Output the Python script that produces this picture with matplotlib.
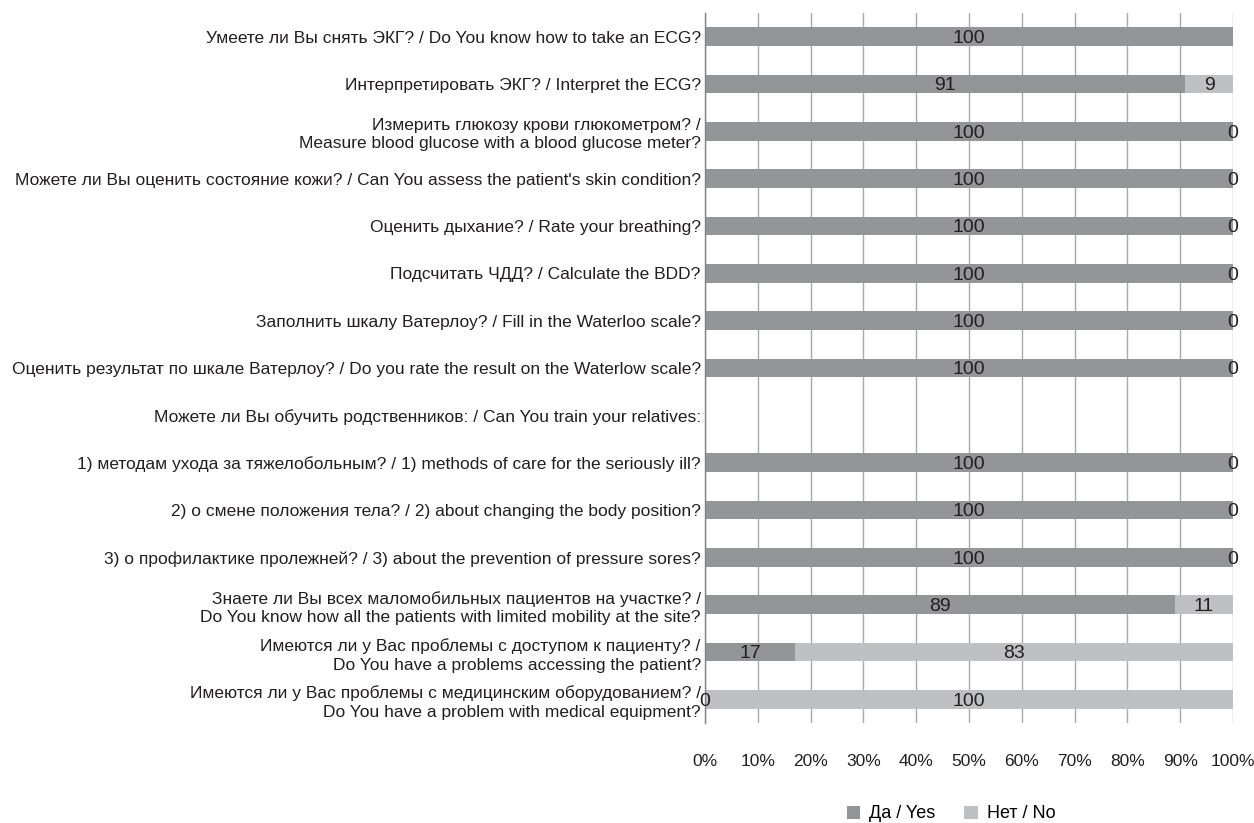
import matplotlib
matplotlib.use("Agg")
import matplotlib.pyplot as plt
import numpy as np

plt.rcParams['font.family'] = ['Liberation Sans', 'DejaVu Sans']

questions = [
    "Умеете ли Вы снять ЭКГ? / Do You know how to take an ECG?",
    "Интерпретировать ЭКГ? / Interpret the ECG?",
    "Измерить глюкозу крови глюкометром? /\nMeasure blood glucose with a blood glucose meter?",
    "Можете ли Вы оценить состояние кожи? / Can You assess the patient's skin condition?",
    "Оценить дыхание? / Rate your breathing?",
    "Подсчитать ЧДД? / Calculate the BDD?",
    "Заполнить шкалу Ватерлоу? / Fill in the Waterloo scale?",
    "Оценить результат по шкале Ватерлоу? / Do you rate the result on the Waterlow scale?",
    "Можете ли Вы обучить родственников: / Can You train your relatives:",
    "1) методам ухода за тяжелобольным? / 1) methods of care for the seriously ill?",
    "2) о смене положения тела? / 2) about changing the body position?",
    "3) о профилактике пролежней? / 3) about the prevention of pressure sores?",
    "Знаете ли Вы всех маломобильных пациентов на участке? /\nDo You know how all the patients with limited mobility at the site?",
    "Имеются ли у Вас проблемы с доступом к пациенту? /\nDo You have a problems accessing the patient?",
    "Имеются ли у Вас проблемы с медицинским оборудованием? /\nDo You have a problem with medical equipment?",
]
yes_pct = [100, 91, 100, 100, 100, 100, 100, 100, None, 100, 100, 100, 89, 17, 0]
no_pct = [None, 9, 0, 0, 0, 0, 0, 0, None, 0, 0, 0, 11, 83, 100]
ticks = [0, 10, 20, 30, 40, 50, 60, 70, 80, 90, 100]

dark = "#939598"
light = "#bfc0c2"
txt = "#231f20"

fig = plt.figure(figsize=(12.54, 8.23), dpi=100)
ax = fig.add_axes([705 / 1254, 1 - 723 / 823, 528 / 1254, 710 / 823])

y = np.arange(len(questions))
yes = np.array([np.nan if v is None else v for v in yes_pct], dtype=float)
no = np.array([np.nan if v is None else v for v in no_pct], dtype=float)

ax.barh(y, np.nan_to_num(yes), height=0.4, color=dark, label="Да / Yes", zorder=2)
ax.barh(y, np.nan_to_num(no), left=np.nan_to_num(yes), height=0.4, color=light,
        label="Нет / No", zorder=2)

# value labels in the middle of each segment
for i in range(len(questions)):
    if not np.isnan(yes[i]):
        ax.text(yes[i] / 2, i, f"{int(yes[i])}", ha="center", va="center_baseline",
                fontsize=14, color=txt, zorder=3)
    if not np.isnan(no[i]):
        ax.text(yes[i] + no[i] / 2, i, f"{int(no[i])}", ha="center", va="center_baseline",
                fontsize=14, color=txt, zorder=3)

ax.set_xlim(0, 100)
ax.set_ylim(len(questions) - 0.5, -0.5)
ax.set_xticks(ticks)
ax.set_xticklabels([f"{t}%" for t in ticks], fontsize=12.5, color=txt)
ax.set_yticks(y)
ax.set_yticklabels(questions, fontsize=12.5, color=txt, linespacing=1.3)
ax.tick_params(axis="both", length=0)
ax.tick_params(axis="x", pad=22)
ax.tick_params(axis="y", pad=3)
ax.xaxis.grid(True, color="#a7a9ac", linewidth=1.0, zorder=0)
for s in ["top", "right", "bottom"]:
    ax.spines[s].set_visible(False)
ax.spines["left"].set_color("#808285")
ax.spines["left"].set_linewidth(1.0)

fig.legend(loc="center", bbox_to_anchor=(951 / 1254, 1 - 814 / 823), ncol=2,
           frameon=False, fontsize=13, handlelength=0.75, handleheight=0.75,
           columnspacing=1.6, handletextpad=0.5)

fig.savefig("out.png", dpi=100)
